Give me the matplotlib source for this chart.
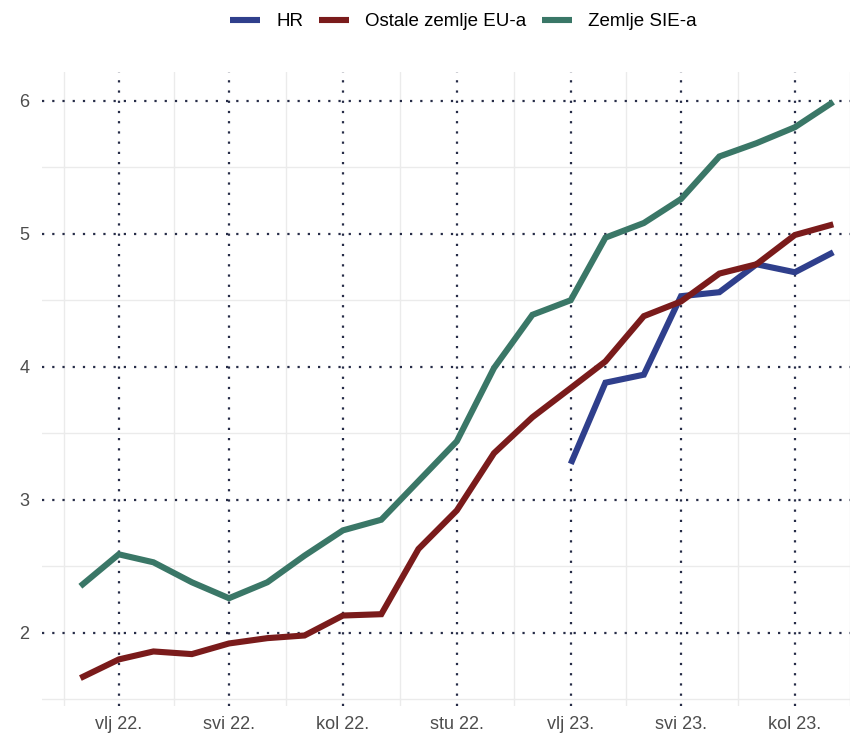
import datetime as dt

import matplotlib
matplotlib.use("Agg")
import matplotlib.pyplot as plt
import matplotlib.dates as mdates

plt.rcParams["font.family"] = ["Liberation Sans", "DejaVu Sans"]

# Monthly series, Jan 2022 - Sep 2023
START_YEAR, START_MONTH, N_MONTHS = 2022, 1, 21

SIE = [2.35, 2.59, 2.53, 2.38, 2.26, 2.38, 2.58, 2.77, 2.85, 3.14, 3.44,
       3.99, 4.39, 4.50, 4.97, 5.08, 5.26, 5.58, 5.68, 5.80, 5.99]
EU = [1.66, 1.80, 1.86, 1.84, 1.92, 1.96, 1.98, 2.13, 2.14, 2.63, 2.92,
      3.35, 3.62, 3.84, 4.04, 4.38, 4.49, 4.70, 4.77, 4.99, 5.07]
# HR starts in Feb 2023
HR_OFFSET = 13
HR = [3.27, 3.88, 3.94, 4.53, 4.56, 4.77, 4.71, 4.86]

LABELS = ["HR", "Ostale zemlje EU-a", "Zemlje SIE-a"]
COLORS = ["#2f3f8c", "#7a1b1b", "#3a7767"]

TICK_DATES = [(2022, 2), (2022, 5), (2022, 8), (2022, 11),
              (2023, 2), (2023, 5), (2023, 8)]
TICK_LABELS = ["vlj 22.", "svi 22.", "kol 22.", "stu 22.",
               "vlj 23.", "svi 23.", "kol 23."]
Y_TICKS = [2, 3, 4, 5, 6]


def month(i):
    y, m = divmod(START_MONTH - 1 + i, 12)
    return dt.date(START_YEAR + y, m + 1, 1)


dates = [month(i) for i in range(N_MONTHS)]
hr_dates = dates[HR_OFFSET:HR_OFFSET + len(HR)]

fig = plt.figure(figsize=(8.52, 7.33), dpi=100)
ax = fig.add_axes([42 / 852, 27 / 733, 808 / 852, 634 / 733])

lw = 4.4
ax.plot(hr_dates, HR, color=COLORS[0], lw=lw, solid_capstyle="butt",
        solid_joinstyle="miter", label=LABELS[0], zorder=3)
ax.plot(dates, EU, color=COLORS[1], lw=lw, solid_capstyle="butt",
        solid_joinstyle="miter", label=LABELS[1], zorder=3)
ax.plot(dates, SIE, color=COLORS[2], lw=lw, solid_capstyle="butt",
        solid_joinstyle="miter", label=LABELS[2], zorder=3)

ax.set_xlim(mdates.date2num(dt.date(2021, 12, 1)),
            mdates.date2num(dt.date(2023, 9, 13)))
ax.set_ylim(1.45, 6.215)

major = [mdates.date2num(dt.date(y, m, 1)) for y, m in TICK_DATES]
minor = [(a + b) / 2 for a, b in zip(major[:-1], major[1:])]
step = major[1] - major[0]
minor = [major[0] - step / 2] + minor + [major[-1] + step / 2]

ax.set_xticks(major)
ax.set_xticklabels(TICK_LABELS)
ax.set_xticks(minor, minor=True)
ax.set_yticks(Y_TICKS)
ax.set_yticks([1.5, 2.5, 3.5, 4.5, 5.5], minor=True)

ax.grid(True, which="minor", color="#ebebeb", lw=1.0, zorder=0)
ax.grid(True, which="major", color="#262c47", lw=1.6,
        linestyle=(0, (1, 3.6)), zorder=1)
ax.set_axisbelow(True)

ax.tick_params(which="both", length=0)
ax.tick_params(axis="x", pad=7.5, labelsize=13, labelcolor="#4d4d4d")
ax.tick_params(axis="y", pad=9, labelsize=13, labelcolor="#4d4d4d")
for s in ax.spines.values():
    s.set_visible(False)

fig.legend(loc="upper center", bbox_to_anchor=(0.544, 1.005), ncol=3,
           frameon=False, fontsize=13.5, handlelength=1.6, handletextpad=0.85,
           columnspacing=0.85)

fig.savefig("out.png", dpi=100, facecolor="white")
